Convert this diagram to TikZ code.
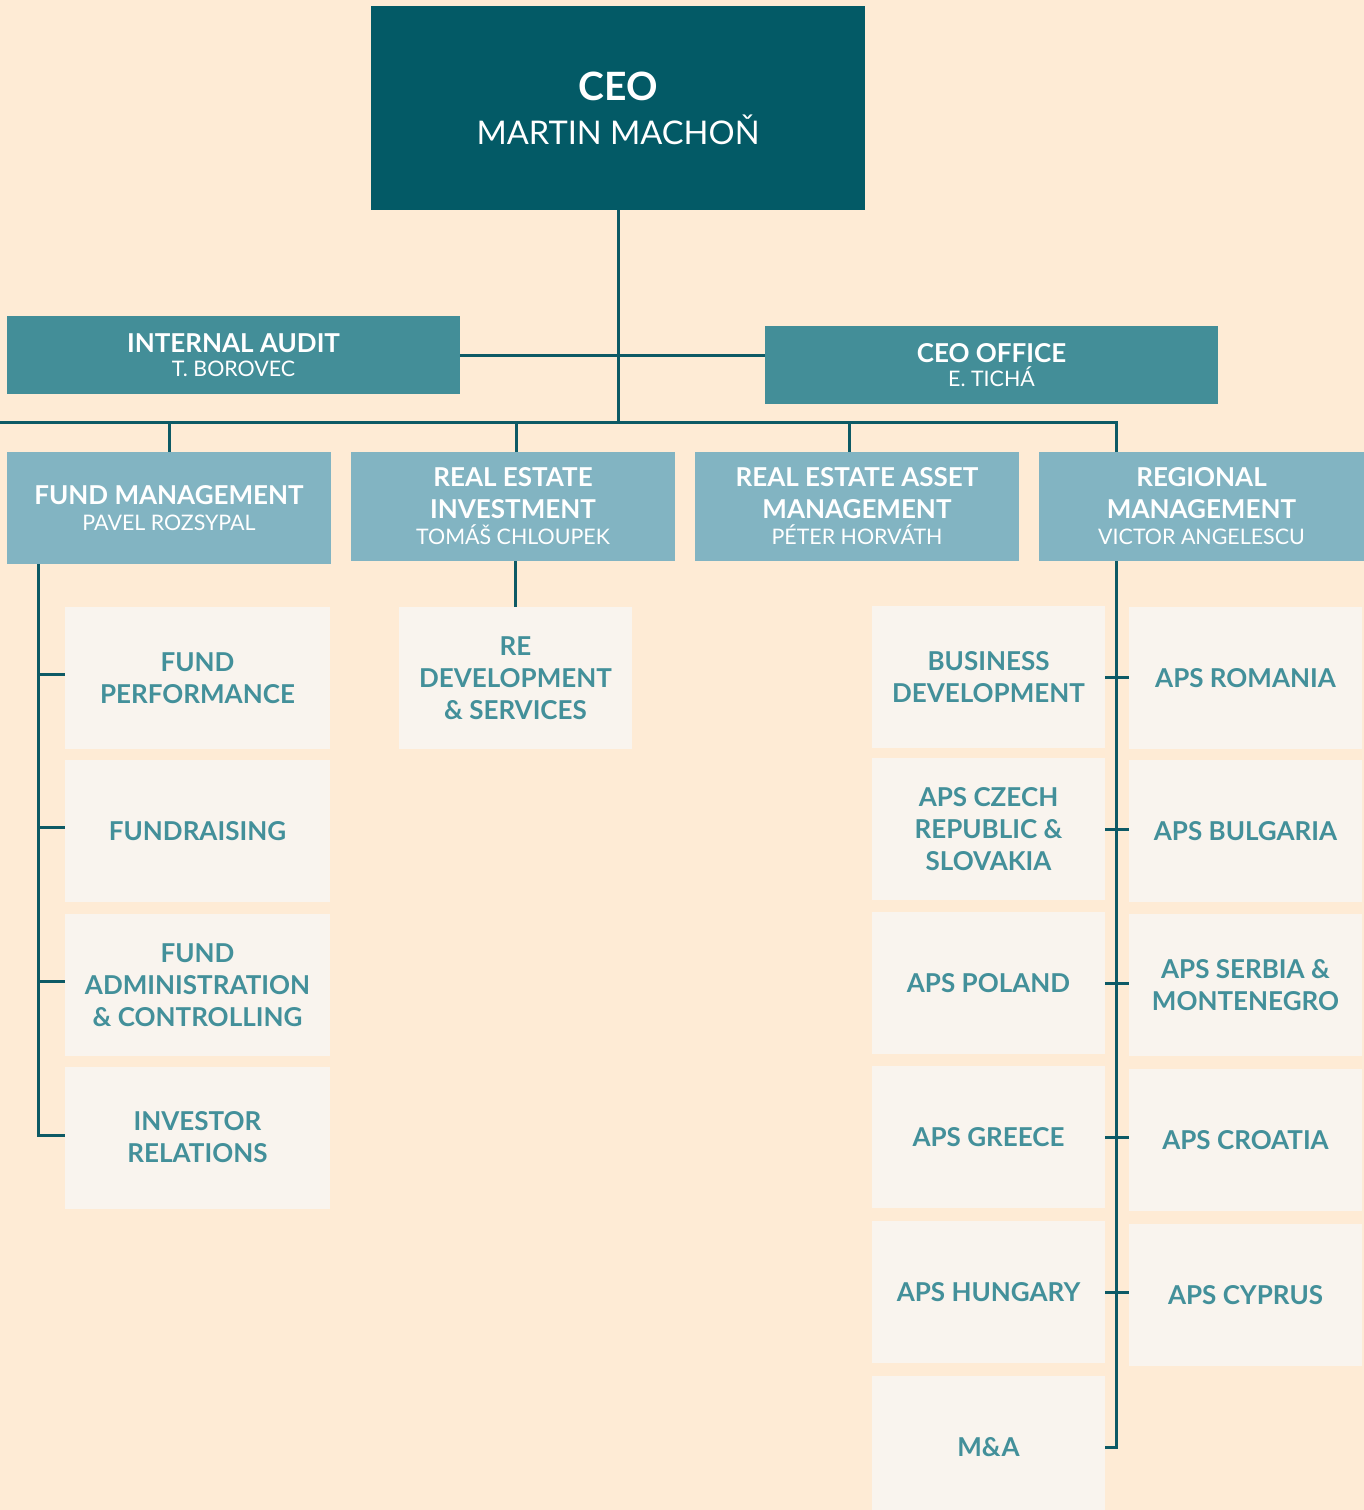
\documentclass[tikz,border=0pt]{standalone}
\usepackage{fontspec}
\setmainfont{Lato}

\definecolor{bgpeach}{HTML}{FEEBD5}
\definecolor{ceoteal}{HTML}{035A66}
\definecolor{auditteal}{HTML}{438E98}
\definecolor{deptblue}{HTML}{82B4C2}
\definecolor{unitcream}{HTML}{F9F4EE}
\definecolor{unittext}{HTML}{43909A}
\definecolor{linkteal}{HTML}{0D5A65}

\tikzset{
  box/.style={inner sep=0pt, align=center},
  ceobox/.style={box, fill=ceoteal, text=white, minimum width=247pt, minimum height=102pt,
    font=\fontsize{19.5}{21}\selectfont\bfseries},
  auditbox/.style={box, fill=auditteal, text=white, minimum width=226.5pt, minimum height=39pt,
    font=\fontsize{13}{15}\selectfont\bfseries},
  deptbox/.style={box, fill=deptblue, text=white, minimum width=162pt,
    font=\fontsize{13}{16}\selectfont\bfseries},
  unitbox/.style={box, fill=unitcream, text=unittext, minimum width=116.5pt, minimum height=71pt,
    font=\fontsize{13}{16}\selectfont\bfseries},
  link/.style={draw=linkteal, line width=1.5pt},
}
\newcommand{\who}[1]{\\[-3pt]{\fontsize{10.7}{13}\selectfont\mdseries #1}}

\begin{document}
\begin{tikzpicture}[x=0.5pt, y=-0.5pt]
\useasboundingbox (0,0) rectangle (1364,1510);
\fill[bgpeach] (0,0) rectangle (1364,1510);
\clip (0,0) rectangle (1364,1510);

% top level
\node[ceobox] (ceo) at (618,108) {CEO\\[1pt]{\fontsize{16.3}{19}\selectfont\mdseries MARTIN MACHOŇ}};
\node[auditbox] (audit) at (233.5,355) {INTERNAL AUDIT\who{T. BOROVEC}};
\node[auditbox] (office) at (991.5,365) {CEO OFFICE\who{E. TICHÁ}};

% departments
\node[deptbox, minimum height=56pt] (fund) at (169,508) {FUND MANAGEMENT\who{PAVEL ROZSYPAL}};
\node[deptbox, minimum height=54.5pt] (rei) at (513,506.5) {REAL ESTATE\\INVESTMENT\who{TOMÁŠ CHLOUPEK}};
\node[deptbox, minimum height=54.5pt] (ream) at (857,506.5) {REAL ESTATE ASSET\\MANAGEMENT\who{PÉTER HORVÁTH}};
\node[deptbox, minimum height=54.5pt, minimum width=162.5pt] (reg) at (1201.5,506.5) {REGIONAL\\MANAGEMENT\who{VICTOR ANGELESCU}};

% units under fund management
\foreach \n/\y/\t in {fp/678/{FUND\\PERFORMANCE}, fr/831/{FUNDRAISING},
    fa/985/{FUND\\ADMINISTRATION\\\& CONTROLLING}, ir/1137.5/{INVESTOR\\RELATIONS}}
  \node[unitbox, minimum width=132.5pt] (\n) at (197.5,\y) {\t};

\node[unitbox] (rdev) at (515.5,678) {RE\\DEVELOPMENT\\\& SERVICES};

% units under regional management
\foreach \n/\y/\t in {bd/677/{BUSINESS\\DEVELOPMENT}, cz/829/{APS CZECH\\REPUBLIC \&\\SLOVAKIA},
    pl/983/{APS POLAND}, gr/1137/{APS GREECE}, hu/1292/{APS HUNGARY}, ma/1447/{M\&A}}
  \node[unitbox] (\n) at (988.5,\y) {\t};
\foreach \n/\y/\t in {ro/678/{APS ROMANIA}, bu/831/{APS BULGARIA}, rs/985/{APS SERBIA \&\\MONTENEGRO},
    hr/1140/{APS CROATIA}, cy/1295/{APS CYPRUS}}
  \node[unitbox] (\n) at (1245.5,\y) {\t};

% connectors
\coordinate (busL) at (0,422);
\coordinate (busR) at (1116,422);
\draw[link] (ceo.south) -- (ceo.south |- busL);
\draw[link] (audit.east) -- (audit.east -| office.west);
\draw[link] (busL) -- (busR) -- (busR |- reg.north);
\draw[link] (fund.north) -- (fund.north |- busL);
\draw[link] ([xshift=1.5pt]rei.north) -- ([xshift=1.5pt]rei.north |- busL);
\draw[link] ([xshift=-4pt]ream.north) -- ([xshift=-4pt]ream.north |- busL);

\coordinate (fspine) at ([xshift=16pt]fund.south west);
\draw[link] (fspine) |- ([yshift=1pt]ir.west);
\foreach \n in {fp,fr,fa}
  \draw[link] ([yshift=2pt]\n.west) -- ([yshift=2pt]\n.west -| fspine);

\draw[link] (rdev.north) -- (rdev.north |- rei.south);

\coordinate (rspine) at (busR |- ma.east);
\draw[link] (busR |- reg.south) -- (rspine) -- (ma.east);
\foreach \l/\r in {bd/ro, cz/bu, pl/rs, gr/hr, hu/cy}
  \draw[link] (\l.east) -- (\l.east -| \r.west);
\end{tikzpicture}
\end{document}
